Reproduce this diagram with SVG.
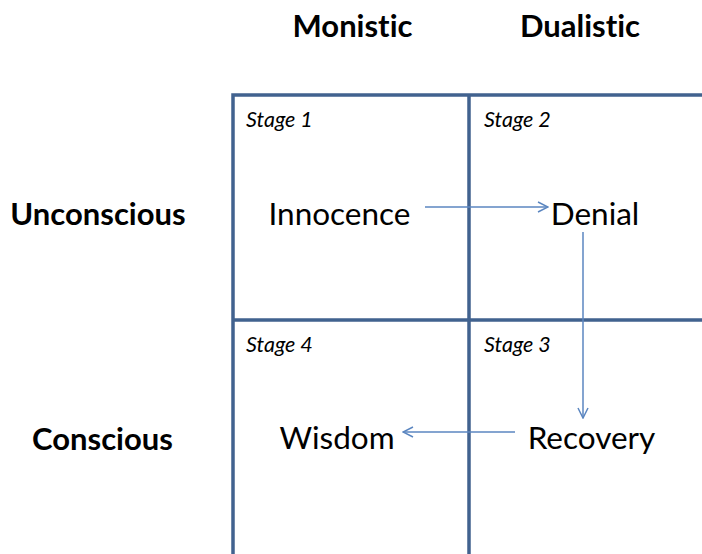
<svg xmlns="http://www.w3.org/2000/svg" width="702" height="554" viewBox="0 0 702 554">
<defs>
<style>
text{font-family:Lato,"Liberation Sans",sans-serif;fill:#000;font-variant-ligatures:none;font-feature-settings:"liga" 0}
.grid{stroke:#41628f;stroke-width:3.5;fill:none}
.hdr{font-weight:bold;font-size:31px;text-anchor:middle}
.stg{font-style:italic;font-size:21.5px}
.lbl{font-size:31.5px;text-anchor:middle}
.conn{stroke:#5b86c0;stroke-width:1.5;fill:none;marker-end:url(#ah)}
</style>
<marker id="ah" viewBox="0 0 12 12" refX="11" refY="6" markerWidth="12" markerHeight="12" markerUnits="userSpaceOnUse" orient="auto">
<path d="M1,1 L11,6 L1,11" fill="none" stroke="#5b86c0" stroke-width="1.5"/>
</marker>
</defs>
<rect width="702" height="554" fill="#fff"/>
<g id="grid">
<path class="grid" d="M233,556 V95 H704 M469,95 V556 M233,320 H704"/>
</g>
<g id="headers">
<text class="hdr" x="352.5" y="37">Monistic</text>
<text class="hdr" x="580" y="37">Dualistic</text>
<text class="hdr" x="98" y="225">Unconscious</text>
<text class="hdr" x="102.5" y="450">Conscious</text>
</g>
<g id="stage1"><text class="stg" x="246" y="127">Stage 1</text><text class="lbl" x="339.5" y="225">Innocence</text></g>
<g id="stage2"><text class="stg" x="484" y="127">Stage 2</text><text class="lbl" x="595" y="225">Denial</text></g>
<g id="stage3"><text class="stg" x="484" y="352">Stage 3</text><text class="lbl" x="591.5" y="449">Recovery</text></g>
<g id="stage4"><text class="stg" x="246" y="352">Stage 4</text><text class="lbl" x="337" y="449">Wisdom</text></g>
<g id="connectors">
<line class="conn" x1="425" y1="207" x2="548" y2="207"/>
<line class="conn" x1="583" y1="232" x2="583" y2="418"/>
<line class="conn" x1="515" y1="432" x2="403" y2="432"/>
</g>
</svg>
